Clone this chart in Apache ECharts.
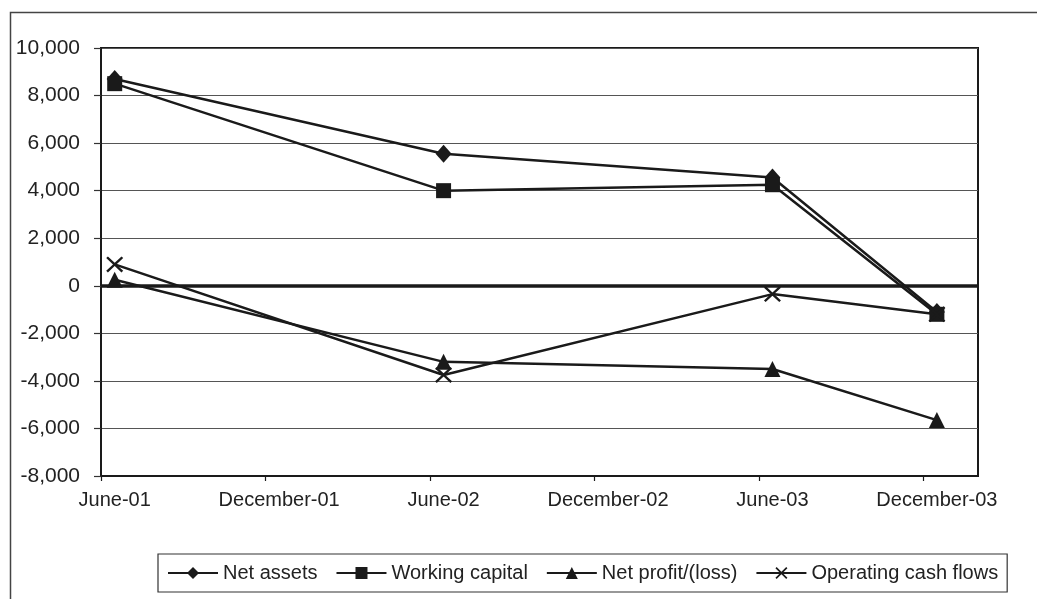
<!DOCTYPE html>
<html>
<head>
<meta charset="utf-8">
<script src="https://cdn.jsdelivr.net/npm/echarts@6/dist/echarts.min.js"></script>
<style>
  html, body { margin: 0; padding: 0; background: #fff; }
  #chart { width: 1037px; height: 599px; }
</style>
</head>
<body>
<div id="chart"></div>
<script>
// Reporting dates (month-year) and figures for each measure
const periods = ['June-01', 'June-02', 'June-03', 'December-03'];
const netAssets = [8700, 5550, 4550, -1100];
const workingCapital = [8500, 4000, 4250, -1200];
const netProfit = [250, -3200, -3500, -5650];
const operatingCashFlows = [900, -3750, -350, -1200];
const tickLabels = ['June-01', 'December-01', 'June-02', 'December-02', 'June-03', 'December-03'];
const yTicks = [-8000, -6000, -4000, -2000, 0, 2000, 4000, 6000, 8000, 10000];

const monthNames = ['January', 'February', 'March', 'April', 'May', 'June', 'July',
  'August', 'September', 'October', 'November', 'December'];

// months elapsed since June 2001 for a "Month-YY" label
function monthIndex(label) {
  const [m, y] = label.split('-');
  return (2000 + Number(y) - 2001) * 12 + monthNames.indexOf(m) - 5;
}
function monthLabel(idx) {
  const total = idx + 5;
  const m = monthNames[((total % 12) + 12) % 12];
  const y = 1 + Math.floor(total / 12);
  return m + '-' + String(y).padStart(2, '0');
}

const FONT = '"Liberation Sans Narrow", "Arial Narrow", "Liberation Sans", Arial, sans-serif';
const INK = '#1a1a1a';
const FS = 20;

// each month occupies one slot; points and labels sit in the middle of their slot
const labelValues = tickLabels.map(monthIndex);
const tickValues = labelValues.map(v => v - 0.5);

function pts(values) {
  return periods.map((p, i) => [monthIndex(p), values[i]]);
}

const crossPath = 'path://M0,2 L2,0 L10,8 L18,0 L20,2 L12,10 L20,18 L18,20 L10,12 L2,20 L0,18 L8,10 Z';

function lineSeries(name, values, symbol, size) {
  return {
    name: name,
    type: 'line',
    data: pts(values),
    symbol: symbol,
    symbolSize: size,
    showAllSymbol: true,
    lineStyle: { color: INK, width: 2.5 },
    itemStyle: { color: INK, borderWidth: 0 },
    emphasis: { disabled: true },
    animation: false
  };
}

const series = [
  lineSeries('Net assets', netAssets, 'diamond', [16, 18]),
  lineSeries('Working capital', workingCapital, 'rect', 15),
  lineSeries('Net profit/(loss)', netProfit, 'triangle', [16, 16]),
  lineSeries('Operating cash flows', operatingCashFlows, crossPath, [17, 16])
];

// heavy zero line across the plot
series[0].markLine = {
  silent: true,
  symbol: 'none',
  label: { show: false },
  lineStyle: { color: INK, width: 3.5, type: 'solid' },
  data: [{ yAxis: 0 }],
  animation: false
};

const chart = echarts.init(document.getElementById('chart'), null, { renderer: 'canvas' });
chart.setOption({
  backgroundColor: '#ffffff',
  animation: false,
  textStyle: { fontFamily: FONT },
  graphic: [{
    type: 'rect',
    shape: { x: 10.5, y: 12.5, width: 1200, height: 800 },
    style: { fill: 'none', stroke: '#444', lineWidth: 1.5 },
    z: -10,
    silent: true
  }],
  grid: {
    left: 101, top: 48, right: 59, bottom: 123,
    show: true, borderColor: INK, borderWidth: 2, backgroundColor: '#fff'
  },
  xAxis: {
    type: 'value',
    min: -0.5,
    max: 31.5,
    axisLine: { show: true, onZero: false, lineStyle: { color: INK, width: 2 } },
    axisTick: { show: true, customValues: tickValues, length: 5, lineStyle: { color: INK, width: 1.2 } },
    axisLabel: {
      customValues: labelValues,
      formatter: v => monthLabel(Math.round(v)),
      color: '#222', fontSize: FS, fontFamily: FONT, margin: 14
    },
    splitLine: { show: false }
  },
  yAxis: {
    type: 'value',
    min: -8000,
    max: 10000,
    interval: 2000,
    axisLine: { show: true, onZero: false, lineStyle: { color: INK, width: 2 } },
    axisTick: { show: true, length: 7, lineStyle: { color: '#333', width: 1.2 } },
    axisLabel: {
      customValues: yTicks,
      formatter: v => v.toLocaleString('en-US'),
      color: '#222', fontSize: 21, fontFamily: FONT, margin: 21
    },
    splitLine: { show: true, lineStyle: { color: '#555', width: 1.2 } }
  },
  legend: {
    bottom: 7,
    left: 158,
    data: series.map(s => s.name),
    orient: 'horizontal',
    itemWidth: 50,
    itemHeight: 15,
    itemGap: 18,
    padding: [9, 9, 9, 9],
    borderColor: '#333',
    borderWidth: 1.2,
    backgroundColor: '#fff',
    textStyle: { color: '#222', fontSize: FS, fontFamily: FONT },
    selectedMode: false
  },
  series: series
});
</script>
</body>
</html>
